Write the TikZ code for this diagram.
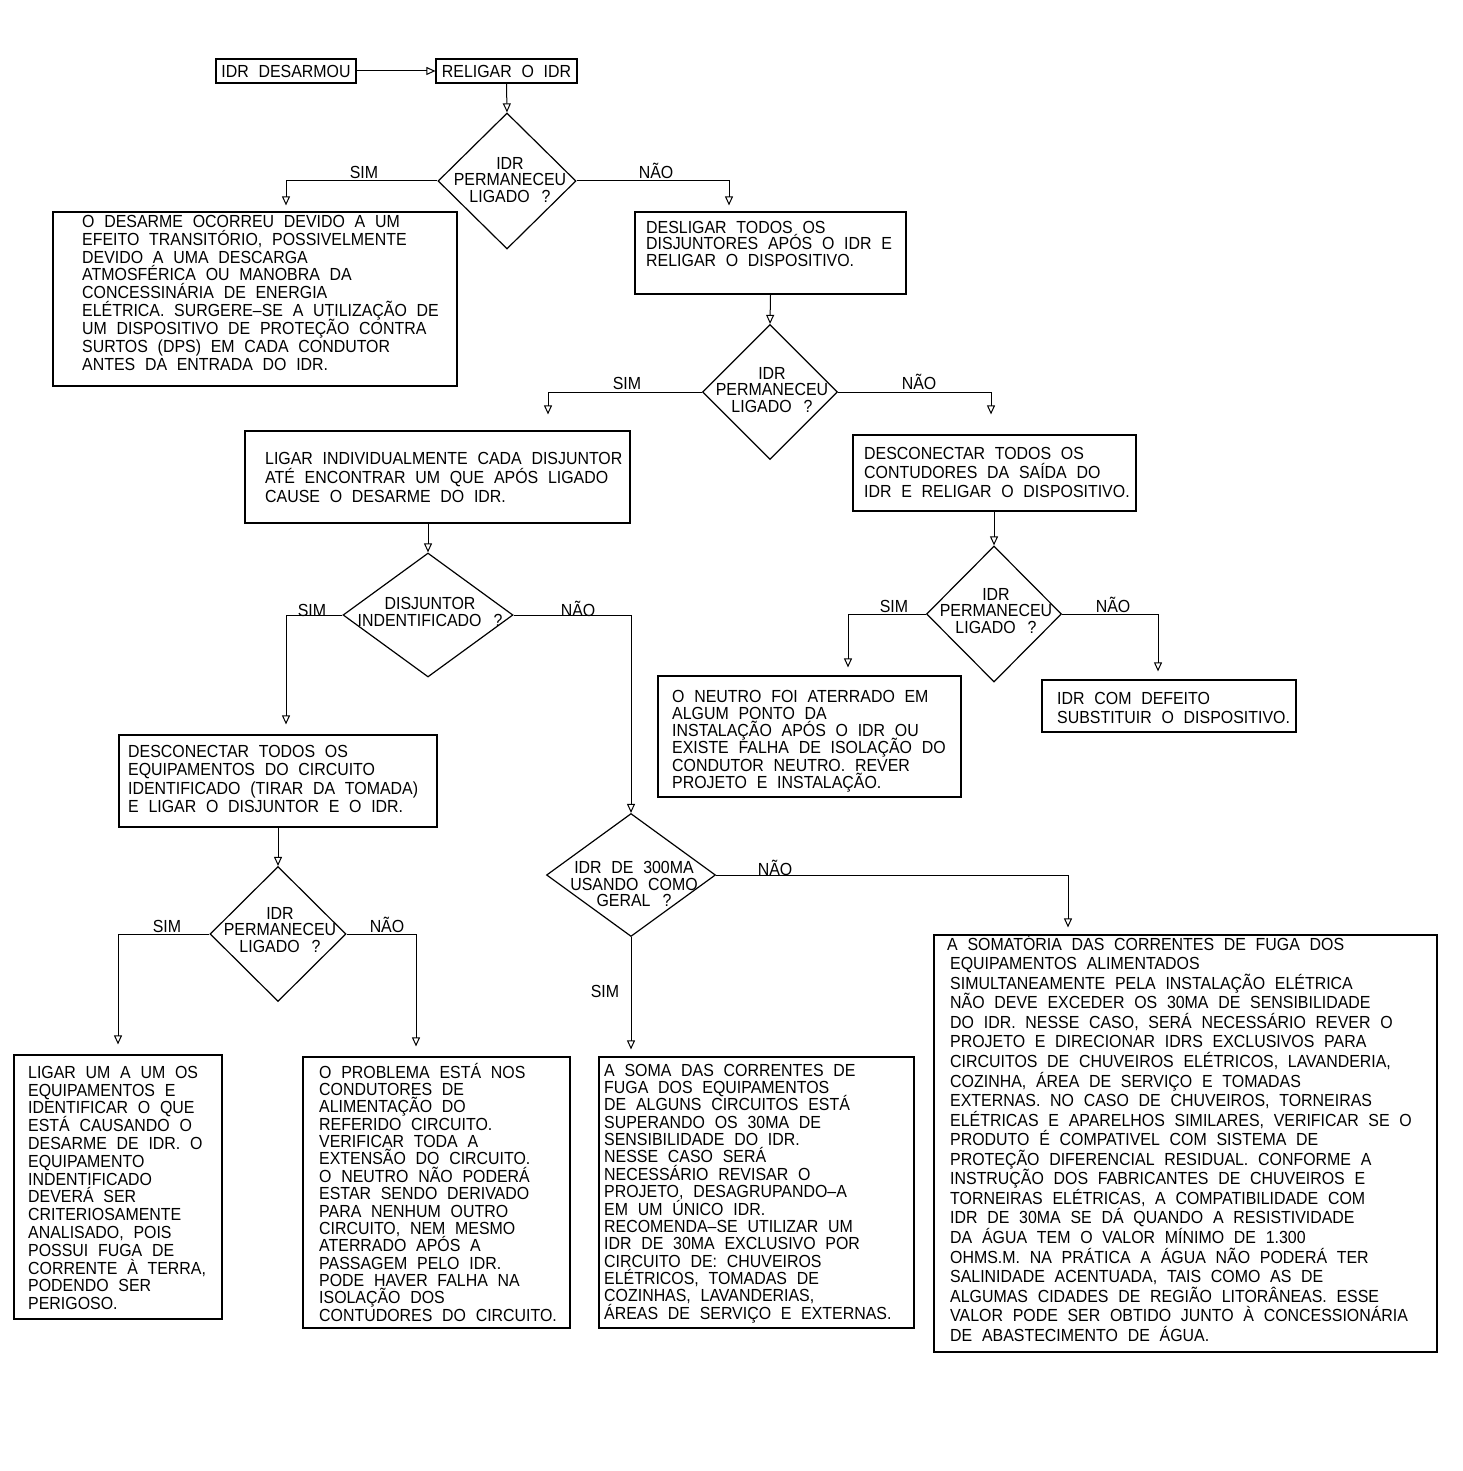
\documentclass[tikz,border=0pt]{standalone}
\usepackage{fontspec}
\setmainfont{Liberation Sans}[FakeStretch=0.91,WordSpace=2.2]
\usetikzlibrary{arrows.meta,shapes.geometric}
\newcommand\firstl{\rule{0pt}{16pt}}
\begin{document}
\lineskiplimit=-30pt\relax
\lineskip=0pt\relax
\begin{tikzpicture}[x=1pt,y=-1pt,
  box/.style 2 args={draw, line width=1.2pt, inner sep=0pt, minimum width=#1pt, minimum height=#2pt, font=\fontsize{17.5}{17.5}\selectfont},
  dia/.style 2 args={draw, diamond, line width=1.2pt, inner sep=0pt, minimum width=#1pt, minimum height=#2pt},
  txt/.style={anchor=north west, inner sep=0pt, align=left, font=\fontsize{17.5}{#1}\selectfont},
  ctxt/.style={inner sep=0pt, align=center, font=\fontsize{17.5}{16.5}\selectfont},
  lbl/.style={anchor=base, inner sep=0pt, font=\fontsize{17.5}{17.5}\selectfont},
  arr/.style={-{Triangle[open,length=9pt,width=8pt]}, line width=1pt},
]
\fill[white] (0,0) rectangle (1462,1471);
\useasboundingbox (0,0) rectangle (1462,1471);

% boxes
\node[box={140}{24}] (des) at (286,71) {IDR DESARMOU};
\node[box={141}{24}] (rel) at (506.5,71) {RELIGAR O IDR};
\node[box={404}{174}] (efeito) at (255,299) {};
\node[box={271}{82}] (desl) at (770.5,253) {};
\node[box={385}{92}] (ligar) at (437.5,477) {};
\node[box={283}{76}] (descon) at (994.5,473) {};
\node[box={303}{121}] (neutro) at (809.5,736.5) {};
\node[box={254}{52}] (defeito) at (1169,706) {};
\node[box={318}{92}] (equip) at (278,781) {};
\node[box={208}{264}] (umaum) at (118,1187) {};
\node[box={267}{271}] (problema) at (436.5,1192.5) {};
\node[box={315}{271}] (soma) at (756.5,1192.5) {};
\node[box={503}{417}] (big) at (1185.5,1143.5) {};

% diamonds
\node[dia={138}{136}] (d1) at (507,181) {};
\node[dia={135}{135}] (d2) at (770,392) {};
\node[dia={170}{124}] (d3) at (428,615) {};
\node[dia={169}{123}] (d4) at (631,875) {};
\node[dia={136}{135}] (d5) at (278,934) {};
\node[dia={135}{136}] (d6) at (994,614) {};

% diamond texts
\node[ctxt] (t1) at (510,180) {IDR\\PERMANECEU\\LIGADO\hspace{12pt}?};
\node[ctxt] (t2) at (772,390) {IDR\\PERMANECEU\\LIGADO\hspace{12pt}?};
\node[ctxt] (t3) at (430,612) {DISJUNTOR\\INDENTIFICADO\hspace{12pt}?};
\node[ctxt] (t4) at (634,884) {IDR DE 300MA\\USANDO COMO\\GERAL\hspace{12pt}?};
\node[ctxt] (t5) at (280,930) {IDR\\PERMANECEU\\LIGADO\hspace{12pt}?};
\node[ctxt] (t6) at (996,611) {IDR\\PERMANECEU\\LIGADO\hspace{12pt}?};

% box texts
\node[txt=17.9] (tefeito) at (82,211) {\firstl O DESARME OCORREU DEVIDO A UM\\EFEITO TRANSITÓRIO, POSSIVELMENTE\\DEVIDO A UMA DESCARGA\\ATMOSFÉRICA OU MANOBRA DA\\CONCESSINÁRIA DE ENERGIA\\ELÉTRICA. SURGERE–SE A UTILIZAÇÃO DE\\UM DISPOSITIVO DE PROTEÇÃO CONTRA\\SURTOS (DPS) EM CADA CONDUTOR\\ANTES DA ENTRADA DO IDR.};
\node[txt=16.4] (tdesl) at (646,217) {\firstl DESLIGAR TODOS OS\\DISJUNTORES APÓS O IDR E\\RELIGAR O DISPOSITIVO.};
\node[txt=19.2] (tligar) at (265,448) {\firstl LIGAR INDIVIDUALMENTE CADA DISJUNTOR\\ATÉ ENCONTRAR UM QUE APÓS LIGADO\\CAUSE O DESARME DO IDR.};
\node[txt=19.3] (tdescon) at (864,443) {\firstl DESCONECTAR TODOS OS\\CONTUDORES DA SAÍDA DO\\IDR E RELIGAR O DISPOSITIVO.};
\node[txt=17.2] (tneutro) at (672,686) {\firstl O NEUTRO FOI ATERRADO EM\\ALGUM PONTO DA\\INSTALAÇÃO APÓS O IDR OU\\EXISTE FALHA DE ISOLAÇÃO DO\\CONDUTOR NEUTRO. REVER\\PROJETO E INSTALAÇÃO.};
\node[txt=19] (tdefeito) at (1057,688) {\firstl IDR COM DEFEITO\\SUBSTITUIR O DISPOSITIVO.};
\node[txt=18.4] (tequip) at (128,741) {\firstl DESCONECTAR TODOS OS\\EQUIPAMENTOS DO CIRCUITO\\IDENTIFICADO (TIRAR DA TOMADA)\\E LIGAR O DISJUNTOR E O IDR.};
\node[txt=17.8] (tumaum) at (28,1062) {\firstl LIGAR UM A UM OS\\EQUIPAMENTOS E\\IDENTIFICAR O QUE\\ESTÁ CAUSANDO O\\DESARME DE IDR. O\\EQUIPAMENTO\\INDENTIFICADO\\DEVERÁ SER\\CRITERIOSAMENTE\\ANALISADO, POIS\\POSSUI FUGA DE\\CORRENTE À TERRA,\\PODENDO SER\\PERIGOSO.};
\node[txt=17.35] (tproblema) at (319,1062) {\firstl O PROBLEMA ESTÁ NOS\\CONDUTORES DE\\ALIMENTAÇÃO DO\\REFERIDO CIRCUITO.\\VERIFICAR TODA A\\EXTENSÃO DO CIRCUITO.\\O NEUTRO NÃO PODERÁ\\ESTAR SENDO DERIVADO\\PARA NENHUM OUTRO\\CIRCUITO, NEM MESMO\\ATERRADO APÓS A\\PASSAGEM PELO IDR.\\PODE HAVER FALHA NA\\ISOLAÇÃO DOS\\CONTUDORES DO CIRCUITO.};
\node[txt=17.35] (tsoma) at (604,1060) {\firstl A SOMA DAS CORRENTES DE\\FUGA DOS EQUIPAMENTOS\\DE ALGUNS CIRCUITOS ESTÁ\\SUPERANDO OS 30MA DE\\SENSIBILIDADE DO IDR.\\NESSE CASO SERÁ\\NECESSÁRIO REVISAR O\\PROJETO, DESAGRUPANDO–A\\EM UM ÚNICO IDR.\\RECOMENDA–SE UTILIZAR UM\\IDR DE 30MA EXCLUSIVO POR\\CIRCUITO DE: CHUVEIROS\\ELÉTRICOS, TOMADAS DE\\COZINHAS, LAVANDERIAS,\\ÁREAS DE SERVIÇO E EXTERNAS.};
\node[txt=19.55] (tbig) at (950,934) {\firstl\hspace{-3pt}A SOMATÓRIA DAS CORRENTES DE FUGA DOS\\EQUIPAMENTOS ALIMENTADOS\\SIMULTANEAMENTE PELA INSTALAÇÃO ELÉTRICA\\NÃO DEVE EXCEDER OS 30MA DE SENSIBILIDADE\\DO IDR. NESSE CASO, SERÁ NECESSÁRIO REVER O\\PROJETO E DIRECIONAR IDRS EXCLUSIVOS PARA\\CIRCUITOS DE CHUVEIROS ELÉTRICOS, LAVANDERIA,\\COZINHA, ÁREA DE SERVIÇO E TOMADAS\\EXTERNAS. NO CASO DE CHUVEIROS, TORNEIRAS\\ELÉTRICAS E APARELHOS SIMILARES, VERIFICAR SE O\\PRODUTO É COMPATIVEL COM SISTEMA DE\\PROTEÇÃO DIFERENCIAL RESIDUAL. CONFORME A\\INSTRUÇÃO DOS FABRICANTES DE CHUVEIROS E\\TORNEIRAS ELÉTRICAS, A COMPATIBILIDADE COM\\IDR DE 30MA SE DÁ QUANDO A RESISTIVIDADE\\DA ÁGUA TEM O VALOR MÍNIMO DE 1.300\\OHMS.M. NA PRÁTICA A ÁGUA NÃO PODERÁ TER\\SALINIDADE ACENTUADA, TAIS COMO AS DE\\ALGUMAS CIDADES DE REGIÃO LITORÂNEAS. ESSE\\VALOR PODE SER OBTIDO JUNTO À CONCESSIONÁRIA\\DE ABASTECIMENTO DE ÁGUA.};

% connectors
\draw[arr] (des.east) -- (rel.west);
\draw[arr] (rel.south) -- (d1.north);
\draw[arr, shorten >=6pt] (d1.west) -| ([xshift=31pt]efeito.north);
\draw[arr, shorten >=6pt] (d1.east) -| ([xshift=-41.5pt]desl.north);
\draw[arr] (desl.south) -- (d2.north);
\draw[arr, shorten >=16pt] (d2.west) -| ([xshift=110.5pt]ligar.north);
\draw[arr, shorten >=20pt] (d2.east) -| ([xshift=-3.5pt]descon.north);
\draw[arr] (d3.north |- ligar.south) -- (d3.north);
\draw[arr, shorten >=10pt] (d3.west) -| ([xshift=8pt]equip.north);
\draw[arr] (d3.east) -| (d4.north);
\draw[arr] (equip.south) -- (d5.north);
\draw[arr, shorten >=10pt] (d5.west) -| (umaum.north);
\draw[arr, shorten >=10pt] (d5.east) -| ([xshift=-20.5pt]problema.north);
\draw[arr, shorten >=7pt] (d4.south) -- (d4.south |- soma.north);
\draw[arr, shorten >=7pt] (d4.east) -| ([xshift=-117.5pt]big.north);
\draw[arr] (d6.north |- descon.south) -- (d6.north);
\draw[arr, shorten >=8pt] (d6.west) -| ([xshift=38.5pt]neutro.north);
\draw[arr, shorten >=8pt] (d6.east) -| ([xshift=-11pt]defeito.north);

% labels
\node[lbl] (s1) at (364,179) {SIM};
\node[lbl] (n1) at (656,179) {NÃO};
\node[lbl] (s2) at (627,389) {SIM};
\node[lbl] (n2) at (919,389) {NÃO};
\node[lbl] (s3) at (312,616) {SIM};
\node[lbl] (n3) at (578,616) {NÃO};
\node[lbl] (n4) at (775,875) {NÃO};
\node[lbl] (s4) at (605,997) {SIM};
\node[lbl] (s5) at (167,932) {SIM};
\node[lbl] (n5) at (387,932) {NÃO};
\node[lbl] (s6) at (894,612) {SIM};
\node[lbl] (n6) at (1113,612) {NÃO};
\end{tikzpicture}
\end{document}
